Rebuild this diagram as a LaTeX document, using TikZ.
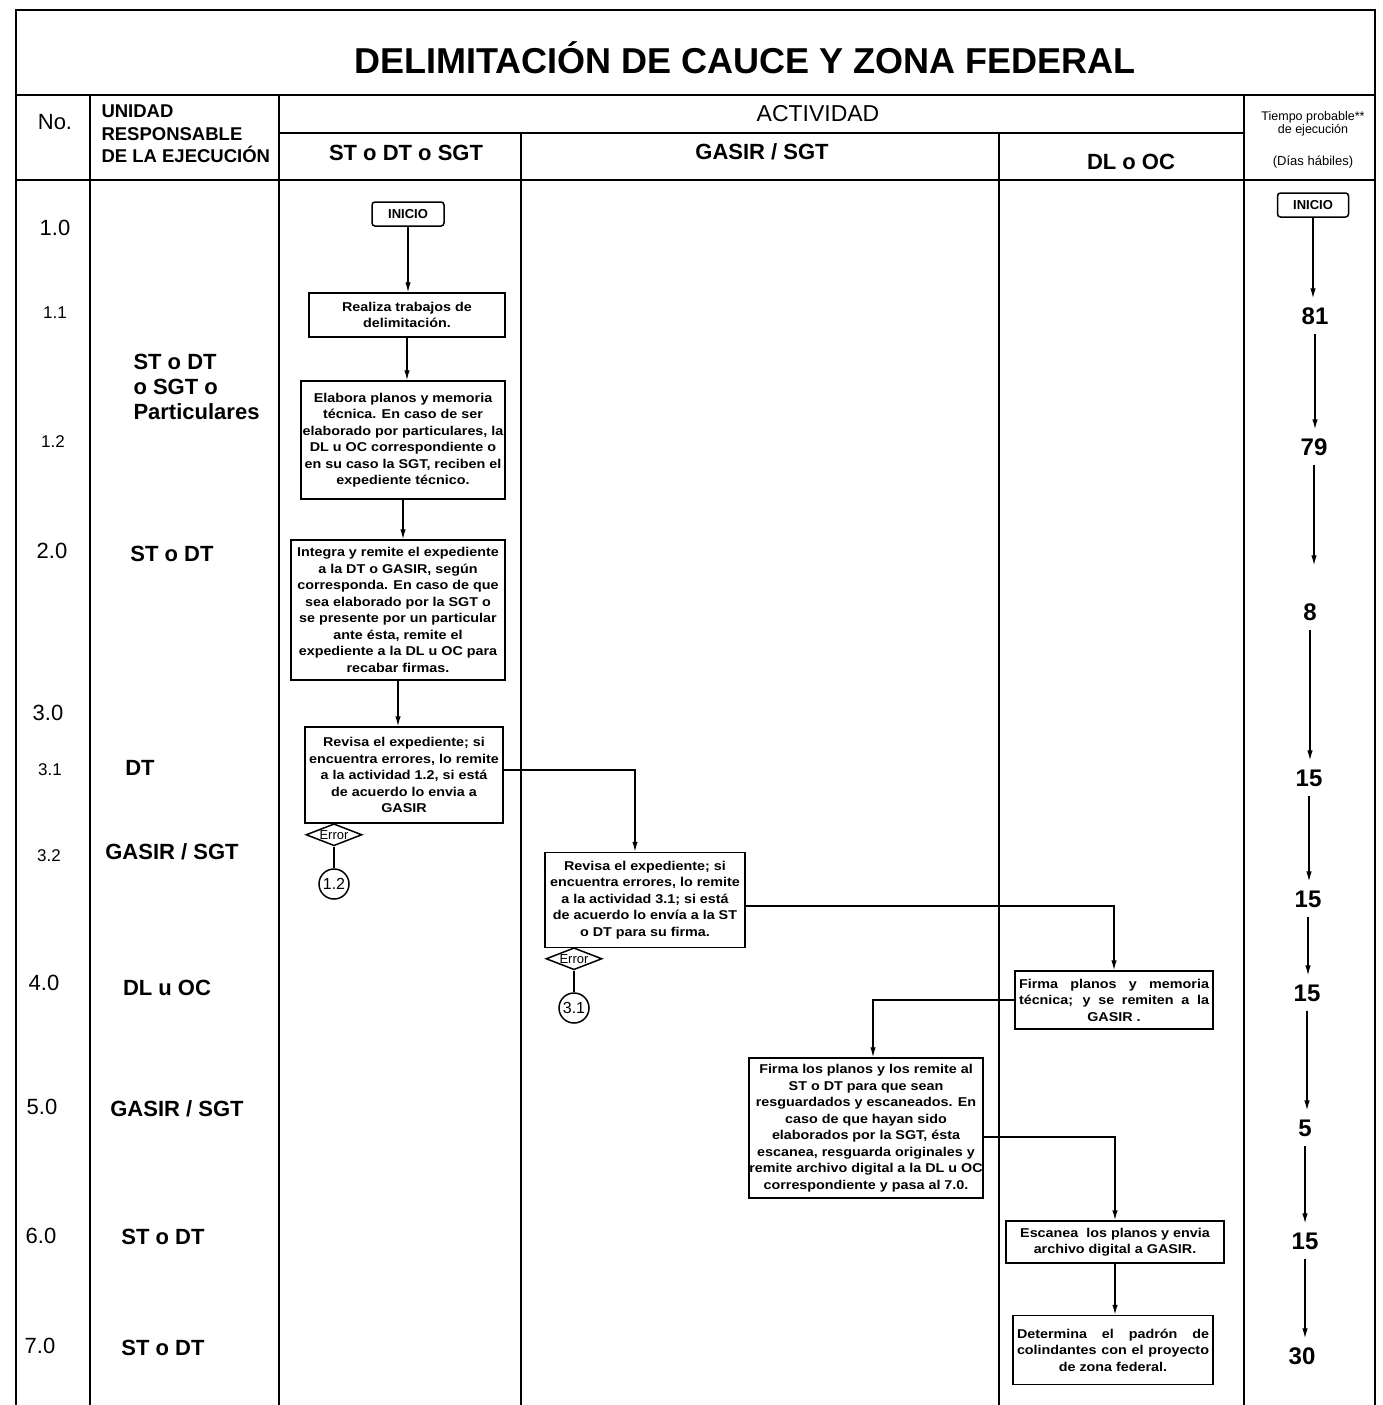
\documentclass[tikz,border=0pt]{standalone}
\usepackage{fontspec}
\setmainfont{Liberation Sans}
\newfontfamily\boxfont[FakeStretch=1.12]{Liberation Sans}
\usetikzlibrary{arrows.meta,shapes.geometric,calc}
\newcommand\fsz[2]{\fontsize{#1}{#2}\selectfont}
\begin{document}
\begin{tikzpicture}[x=1pt,y=-1pt,
  frame/.style={line width=1.6pt},
  box/.style={draw, line width=1.5pt, fill=white, font=\boxfont\bfseries\fsz{12.8}{16.5}, align=center, inner sep=0pt},
  arr/.style={line width=1.3pt, -{Latex[length=10pt,width=5.5pt]}},
  conn/.style={line width=1.3pt},
  startbox/.style={draw, line width=1.5pt, rounded corners=3pt, fill=white, font=\bfseries\fsz{13}{15}, minimum width=72pt, minimum height=24pt, inner sep=0pt},
  tnum/.style={font=\bfseries\fsz{24}{26}, inner xsep=0pt, inner ysep=9pt},
  numA/.style={font=\fsz{22}{24}},
  numB/.style={font=\fsz{17}{20}},
  unit/.style={font=\bfseries\fsz{22}{25}, align=left},
  lanehdr/.style={font=\bfseries\fsz{22}{24}},
  errd/.style={diamond, draw, line width=1.5pt, fill=white, aspect=2.5, minimum width=56pt, minimum height=22pt, inner sep=0pt},
  conc/.style={circle, draw, line width=1.5pt, fill=white, minimum size=30pt, inner sep=0pt, font=\fsz{16}{18}}
]
\useasboundingbox (0,0) rectangle (1382,1405);
\fill[white] (0,0) rectangle (1382,1405);

% ---------- frame ----------
\draw[frame] (16,1405) -- (16,10) -- (1375,10) -- (1375,1405);
\draw[frame] (16,95) -- (1375,95);
\draw[frame] (279,133) -- (1244,133);
\draw[frame] (16,180) -- (1375,180);
\draw[frame] (90,95) -- (90,1405);
\draw[frame] (279,95) -- (279,1405);
\draw[frame] (521,133) -- (521,1405);
\draw[frame] (999,133) -- (999,1405);
\draw[frame] (1244,95) -- (1244,1405);

% ---------- headers ----------
\node[font=\bfseries\fsz{36}{40}] (title) at (745,58) {DELIMITACIÓN DE CAUCE Y ZONA FEDERAL};
\node[font=\fsz{22}{24}] (hno) at (55,122) {No.};
\node[font=\bfseries\fsz{18.5}{22.5}, align=left, anchor=west] (hunit) at (98,134) {UNIDAD\\RESPONSABLE\\DE LA EJECUCIÓN};
\node[font=\fsz{23}{25}] (hact) at (818,114) {ACTIVIDAD};
\node[lanehdr] (hl1) at (406,153) {ST o DT o SGT};
\node[lanehdr] (hl2) at (762,152) {GASIR / SGT};
\node[lanehdr] (hl3) at (1131,162) {DL o OC};
\node[font=\fsz{12.5}{11}, align=center] (htime) at (1313,124) {Tiempo probable**\\de ejecución};
\node[font=\fsz{13}{15}] (hdias) at (1313,162) {(Días hábiles)};

% ---------- No. column ----------
\node[numA] (n10) at (55,228) {1.0};
\node[numB] (n11) at (55,313) {1.1};
\node[numB] (n12) at (53,442) {1.2};
\node[numA] (n20) at (52,551) {2.0};
\node[numA] (n30) at (48,713) {3.0};
\node[numB] (n31) at (50,770) {3.1};
\node[numB] (n32) at (49,856) {3.2};
\node[numA] (n40) at (44,983) {4.0};
\node[numA] (n50) at (42,1107) {5.0};
\node[numA] (n60) at (41,1236) {6.0};
\node[numA] (n70) at (40,1346) {7.0};

% ---------- Unidad column ----------
\node[unit, anchor=west] (u1) at (130,387) {ST o DT\\o SGT o\\Particulares};
\node[unit] (u2) at (172,554) {ST o DT};
\node[unit] (u3) at (140,768) {DT};
\node[unit] (u4) at (172,852) {GASIR / SGT};
\node[unit] (u5) at (167,988) {DL u OC};
\node[unit] (u6) at (177,1109) {GASIR / SGT};
\node[unit] (u7) at (163,1237) {ST o DT};
\node[unit] (u8) at (163,1348) {ST o DT};

% ---------- flow ----------
\node[startbox] (ini) at (408,214) {INICIO};
\node[box, minimum width=196pt, minimum height=44pt] (b1) at (407,315) {Realiza trabajos de\\delimitación.};
\node[box, minimum width=204pt, minimum height=118pt] (b2) at (403,440) {Elabora planos y memoria\\técnica. En caso de ser\\elaborado por particulares, la\\DL u OC correspondiente o\\en su caso la SGT, reciben el\\expediente técnico.};
\node[box, minimum width=214pt, minimum height=140pt] (b3) at (398,610) {Integra y remite el expediente\\a la DT o GASIR, según\\corresponda. En caso de que\\sea elaborado por la SGT o\\se presente por un particular\\ante ésta, remite el\\expediente a la DL u OC para\\recabar firmas.};
\node[box, minimum width=198pt, minimum height=96pt] (b4) at (404,775) {Revisa el expediente; si\\encuentra errores, lo remite\\a la actividad 1.2, si está\\de acuerdo lo envia a\\GASIR};
\node[errd, anchor=north, label={[font=\fsz{13}{14}]center:Error}] (e1) at (334,823) {};
\node[conc] (c1) at (334,884) {1.2};

\node[box, minimum width=200pt, minimum height=95pt] (b5) at (645,900) {Revisa el expediente; si\\encuentra errores, lo remite\\a la actividad 3.1; si está\\de acuerdo lo envía a la ST\\o DT para su firma.};
\node[errd, anchor=north, label={[font=\fsz{13}{14}]center:Error}] (e2) at (574,947) {};
\node[conc] (c2) at (574,1008) {3.1};

\node[box, minimum width=198pt, minimum height=58pt] (b6) at (1114,1000) {\makebox[190pt][s]{Firma planos y memoria}\\\makebox[190pt][s]{técnica; y se remiten a la}\\GASIR .};
\node[box, minimum width=234pt, minimum height=140pt] (b7) at (866,1128) {Firma los planos y los remite al\\ST o DT para que sean\\resguardados y escaneados. En\\caso de que hayan sido\\elaborados por la SGT, ésta\\escanea, resguarda originales y\\remite archivo digital a la DL u OC\\correspondiente y pasa al 7.0.};
\node[box, minimum width=218pt, minimum height=42pt] (b8) at (1115,1242) {Escanea\ \ los planos y envia\\archivo digital a GASIR.};
\node[box, minimum width=200pt, minimum height=69pt] (b9) at (1113,1350) {\makebox[192pt][s]{Determina el padrón de}\\\makebox[192pt][s]{colindantes con el proyecto}\\de zona federal.};

\draw[arr] (ini.south) -- (ini.south |- b1.north);
\draw[arr] (b1.south) -- (b1.south |- b2.north);
\draw[arr] (b2.south) -- (b2.south |- b3.north);
\draw[arr] (b3.south) -- (b3.south |- b4.north);
\draw[arr] ([yshift=5pt]b4.east) -| ([xshift=-10pt]b5.north);
\draw[conn] (e1.south) -- (c1.north);
\draw[arr] ([yshift=-6pt]b5.east) -| (b6.north);
\draw[conn] (e2.south) -- (c2.north);
\draw[arr] (b6.west) -| ([xshift=7pt]b7.north);
\draw[arr] ([yshift=-9pt]b7.east) -| (b8.north);
\draw[arr] (b8.south) -- (b8.south |- b9.north);

% ---------- Tiempo column ----------
\node[startbox, minimum width=71pt] (ti) at (1313,205) {INICIO};
\node[tnum] (t1) at (1315,316) {81};
\node[tnum] (t2) at (1314,447) {79};
\node[tnum] (t3) at (1310,612) {8};
\node[tnum] (t4) at (1309,778) {15};
\node[tnum] (t5) at (1308,899) {15};
\node[tnum] (t6) at (1307,993) {15};
\node[tnum] (t7) at (1305,1128) {5};
\node[tnum] (t8) at (1305,1241) {15};
\node[tnum] (t9) at (1302,1356) {30};
\draw[arr] (ti.south) -- (ti.south |- t1.north);
\draw[arr] (t1.south) -- (t1.south |- t2.north);
\draw[arr] (t2.south) -- ([yshift=29pt]t2.south |- t3.north);
\draw[arr] (t3.south) -- (t3.south |- t4.north);
\draw[arr] (t4.south) -- (t4.south |- t5.north);
\draw[arr] (t5.south) -- (t5.south |- t6.north);
\draw[arr] (t6.south) -- (t6.south |- t7.north);
\draw[arr] (t7.south) -- (t7.south |- t8.north);
\draw[arr] (t8.south) -- (t8.south |- t9.north);
\end{tikzpicture}
\end{document}
